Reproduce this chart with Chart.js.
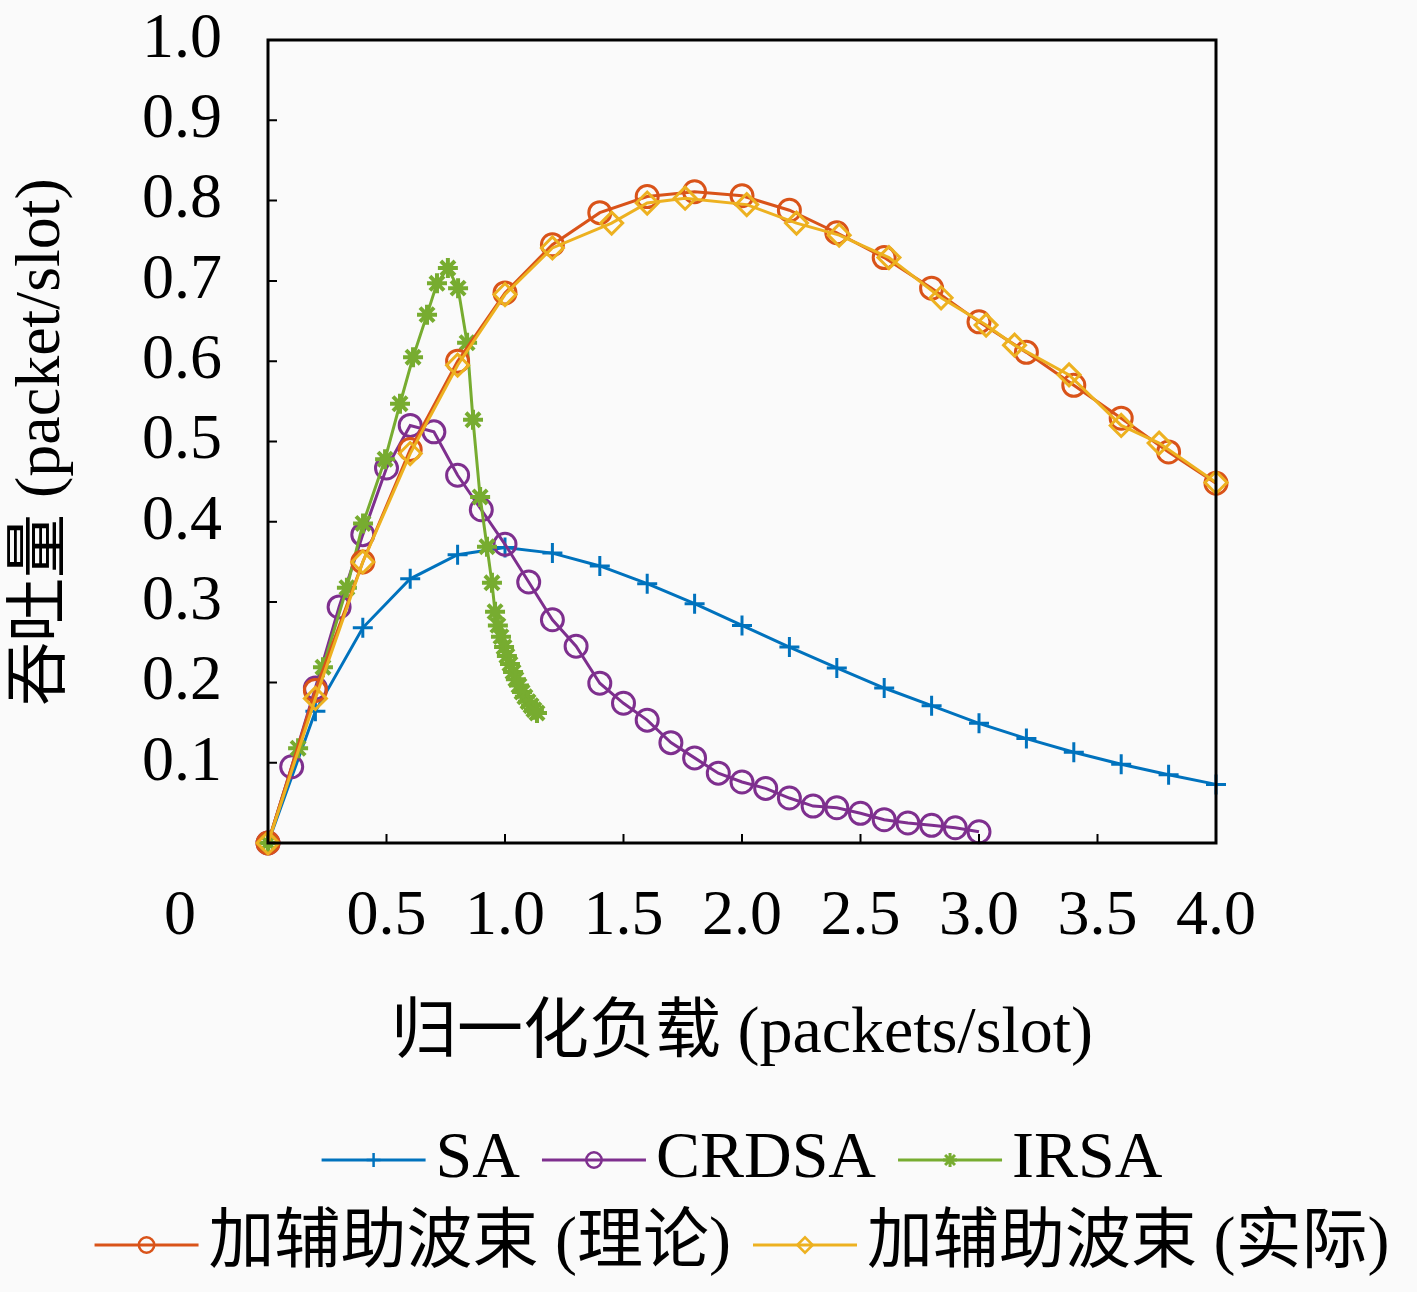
<!DOCTYPE html>
<html>
<head>
<meta charset="utf-8">
<script src="https://cdn.jsdelivr.net/npm/chart.js@4.4.1/dist/chart.umd.min.js"></script>
<style>
    html, body { margin: 0; padding: 0; background: #fafafa; }
    #wrap { width: 1417px; height: 1292px; }
</style>
</head>
<body>
<div id="wrap"><canvas id="throughputChart" width="1417" height="1292"></canvas></div>
<script>
// Values
const loadSA = [0, 0.2, 0.4, 0.6, 0.8, 1.0, 1.2, 1.4, 1.6, 1.8, 2.0, 2.2, 2.4, 2.6, 2.8, 3.0, 3.2, 3.4, 3.6, 3.8, 4.0];
const thrSA = [0, 0.164, 0.268, 0.329, 0.359, 0.368, 0.361, 0.345, 0.323, 0.298, 0.271, 0.244, 0.218, 0.193, 0.171, 0.149, 0.130, 0.113, 0.098, 0.085, 0.073];

const loadCRDSA = [0, 0.1, 0.2, 0.3, 0.4, 0.5, 0.6, 0.7, 0.8, 0.9, 1.0, 1.1, 1.2, 1.3, 1.4, 1.5, 1.6, 1.7, 1.8, 1.9, 2.0,
    2.1, 2.2, 2.3, 2.4, 2.5, 2.6, 2.7, 2.8, 2.9, 3.0];
const thrCRDSA = [0, 0.095, 0.193, 0.294, 0.384, 0.467, 0.520, 0.512, 0.458, 0.415, 0.372, 0.325, 0.278, 0.245, 0.199, 0.174,
    0.153, 0.125, 0.106, 0.087, 0.076, 0.068, 0.056, 0.046, 0.044, 0.037, 0.029, 0.025, 0.022, 0.019, 0.014];

const loadIRSA = [0, 0.127, 0.232, 0.333, 0.401, 0.494, 0.557, 0.612, 0.671, 0.713, 0.759, 0.802, 0.840, 0.865, 0.895,
    0.924, 0.945, 0.958, 0.970, 0.983, 0.996, 1.008, 1.021, 1.034, 1.046, 1.059, 1.072, 1.084, 1.097, 1.110, 1.122, 1.135];
const thrIRSA = [0, 0.118, 0.219, 0.318, 0.398, 0.478, 0.547, 0.605, 0.658, 0.697, 0.716, 0.691, 0.623, 0.527, 0.431,
    0.369, 0.324, 0.288, 0.271, 0.257, 0.244, 0.233, 0.223, 0.213, 0.204, 0.196, 0.188, 0.182, 0.176, 0.171, 0.166, 0.162];

const loadTheory = [0, 0.2, 0.4, 0.6, 0.8, 1.0, 1.2, 1.4, 1.6, 1.8, 2.0, 2.2, 2.4, 2.6, 2.8, 3.0, 3.2, 3.4, 3.6, 3.8, 4.0];
const thrTheory = [0, 0.190, 0.350, 0.490, 0.600, 0.685, 0.745, 0.785, 0.805, 0.811, 0.806, 0.788, 0.760, 0.729, 0.691,
    0.649, 0.611, 0.570, 0.529, 0.487, 0.448];

const loadActual = [0, 0.2, 0.4, 0.6, 0.8, 1.0, 1.2, 1.45, 1.6, 1.76, 2.02, 2.23, 2.41, 2.62, 2.84, 3.03, 3.15, 3.38, 3.6, 3.76, 4.0];
const thrActual = [0, 0.180, 0.350, 0.485, 0.595, 0.683, 0.741, 0.772, 0.797, 0.803, 0.795, 0.772, 0.757, 0.729, 0.679,
    0.645, 0.620, 0.583, 0.520, 0.498, 0.449];

const seriesNames = ['SA', 'CRDSA', 'IRSA', '加辅助波束 (理论)', '加辅助波束 (实际)'];
const xTitle = '归一化负载 (packets/slot)';
const yTitle = '吞吐量 (packet/slot)';
const originLabel = '0';

const FONT = "'Liberation Serif', 'Noto Sans CJK SC', serif";

function pairs(xs, ys) {
    return xs.map((x, i) => ({ x: x, y: ys[i] }));
}

function makeSet(label, xs, ys, color, style, radius, pbw, order) {
    return {
        label: label,
        data: pairs(xs, ys),
        borderColor: color,
        backgroundColor: color,
        borderWidth: 3,
        pointStyle: style,
        pointRadius: radius,
        pointBorderWidth: pbw,
        pointBorderColor: color,
        pointBackgroundColor: 'rgba(0,0,0,0)',
        tension: 0,
        clip: false,
        order: order
    };
}

// axis box, inner ticks, titles, origin label and the two-row legend
const decorations = {
    id: 'decorations',
    afterDraw(chart) {
        const ctx = chart.ctx;
        const area = chart.chartArea;
        const xs = chart.scales.x;
        const ys = chart.scales.y;
        ctx.save();

        ctx.strokeStyle = '#000';
        ctx.lineWidth = 3;
        ctx.strokeRect(area.left, area.top, area.right - area.left, area.bottom - area.top);

        ctx.lineWidth = 2;
        ctx.beginPath();
        for (let v = 0.5; v < 4; v += 0.5) {
            const px = xs.getPixelForValue(v);
            ctx.moveTo(px, area.bottom);
            ctx.lineTo(px, area.bottom - 9);
        }
        for (let v = 1; v < 10; v++) {
            const py = ys.getPixelForValue(v / 10);
            ctx.moveTo(area.left, py);
            ctx.lineTo(area.left + 9, py);
        }
        ctx.stroke();

        ctx.fillStyle = '#000';
        ctx.textAlign = 'center';
        ctx.textBaseline = 'middle';
        ctx.font = '64px ' + FONT;
        ctx.fillText(originLabel, xs.getPixelForValue(0) - 88, 917);

        ctx.font = '66px ' + FONT;
        ctx.fillText(xTitle, (area.left + area.right) / 2, 1035);

        ctx.save();
        ctx.translate(42, 442);
        ctx.rotate(-Math.PI / 2);
        ctx.font = '64px ' + FONT;
        ctx.fillText(yTitle, 0, 0);
        ctx.restore();

        // legend
        const rows = [[0, 1, 2], [3, 4]];
        const rowY = [1160, 1245];
        const lineLen = 104;
        const gapText = 10;
        const gapItem = 22;
        const centerX = (area.left + area.right) / 2;
        ctx.font = '66px ' + FONT;
        ctx.textAlign = 'left';
        rows.forEach((row, r) => {
            const widths = row.map(i => lineLen + gapText + ctx.measureText(chart.data.datasets[i].label).width);
            const total = widths.reduce((a, b) => a + b, 0) + gapItem * (row.length - 1);
            let x = centerX - total / 2;
            row.forEach((i, k) => {
                const ds = chart.data.datasets[i];
                const y = rowY[r];
                ctx.strokeStyle = ds.borderColor;
                ctx.lineWidth = 3;
                ctx.beginPath();
                ctx.moveTo(x, y);
                ctx.lineTo(x + lineLen, y);
                ctx.stroke();
                ctx.lineWidth = ds.pointStyle === 'star' ? 3 : 2.5;
                ctx.fillStyle = 'rgba(0,0,0,0)';
                Chart.helpers.drawPoint(ctx, {
                    pointStyle: ds.pointStyle,
                    radius: ds.pointRadius * 0.7,
                    rotation: 0,
                    borderWidth: ctx.lineWidth
                }, x + lineLen / 2, y);
                ctx.fillStyle = '#000';
                ctx.fillText(ds.label, x + lineLen + gapText, y);
                x += widths[k] + gapItem;
            });
        });

        ctx.restore();
    }
};

const datasets = [
    makeSet(seriesNames[0], loadSA, thrSA, '#0072BD', 'cross', 10, 3, 4),
    makeSet(seriesNames[1], loadCRDSA, thrCRDSA, '#7E2F8E', 'circle', 11, 3, 3),
    makeSet(seriesNames[2], loadIRSA, thrIRSA, '#77AC30', 'star', 10, 4, 2),
    makeSet(seriesNames[3], loadTheory, thrTheory, '#D95319', 'circle', 11, 3, 1),
    makeSet(seriesNames[4], loadActual, thrActual, '#EDB120', 'rectRot', 11, 3, 0)
];

const tickFont = { family: FONT, size: 64 };

new Chart(document.getElementById('throughputChart'), {
    type: 'line',
    data: { datasets: datasets },
    options: {
        responsive: false,
        animation: false,
        devicePixelRatio: 1,
        layout: { padding: { top: 40, right: 201, bottom: 339, left: 0 } },
        plugins: {
            legend: { display: false },
            tooltip: { enabled: false }
        },
        scales: {
            x: {
                type: 'linear',
                min: 0,
                max: 4,
                grid: { display: false, drawTicks: false },
                border: { display: false },
                ticks: {
                    stepSize: 0.5,
                    autoSkip: false,
                    maxRotation: 0,
                    padding: 36,
                    color: '#000',
                    font: tickFont,
                    callback: v => (v === 0 ? '' : v.toFixed(1))
                },
                afterFit(scale) {
                    scale.height = 110;
                    scale.paddingLeft = 0;
                    scale.paddingRight = 0;
                }
            },
            y: {
                min: 0,
                max: 1,
                grid: { display: false, drawTicks: false },
                border: { display: false },
                ticks: {
                    stepSize: 0.1,
                    autoSkip: false,
                    padding: 46,
                    color: '#000',
                    font: tickFont,
                    callback: v => (Math.abs(v) < 1e-9 ? '' : v.toFixed(1))
                },
                afterFit(scale) {
                    scale.width = 268;
                    scale.paddingTop = 0;
                    scale.paddingBottom = 0;
                }
            }
        }
    },
    plugins: [decorations]
});
</script>
</body>
</html>
